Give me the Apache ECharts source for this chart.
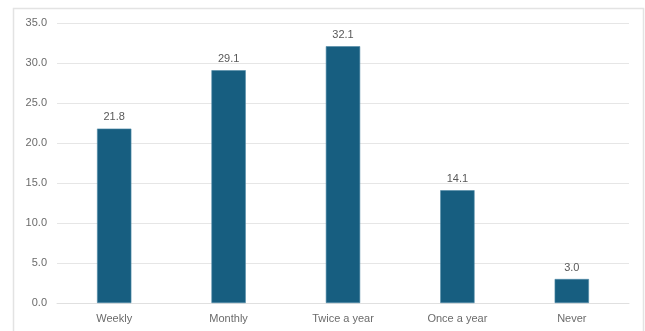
<!DOCTYPE html>
<html>
<head>
<meta charset="utf-8">
<script src="https://cdn.jsdelivr.net/npm/echarts@6/dist/echarts.min.js"></script>
<style>
  html, body { margin: 0; padding: 0; background: #ffffff; }
  #chart { width: 645px; height: 331px; }
</style>
</head>
<body>
<div id="chart"></div>
<script>
// Survey response frequency (percent)
const categories = ['Weekly', 'Monthly', 'Twice a year', 'Once a year', 'Never'];
const values = [21.8, 29.1, 32.1, 14.1, 3.0];
const yTicks = { min: 0, max: 35, interval: 5 };

const chart = echarts.init(document.getElementById('chart'), null, { renderer: 'canvas' });

chart.setOption({
  animation: false,
  backgroundColor: '#ffffff',
  graphic: [{
    type: 'rect',
    shape: { x: 13.5, y: 8.5, width: 630, height: 330 },
    style: { fill: 'none', stroke: '#e3e3e3', lineWidth: 1.5 },
    silent: true
  }],
  grid: { left: 57, right: 16, top: 23, bottom: 28, containLabel: false },
  xAxis: {
    type: 'category',
    data: categories,
    axisLine: { show: true, lineStyle: { color: '#e0e0e0', width: 1 } },
    axisTick: { show: false },
    axisLabel: {
      color: '#6b6b6b',
      fontFamily: 'Liberation Sans, Arial, sans-serif',
      fontSize: 11,
      margin: 10
    }
  },
  yAxis: {
    type: 'value',
    min: yTicks.min,
    max: yTicks.max,
    interval: yTicks.interval,
    axisLine: { show: false },
    axisTick: { show: false },
    splitLine: { lineStyle: { color: '#e6e6e6', width: 1 } },
    axisLabel: {
      color: '#6b6b6b',
      fontFamily: 'Liberation Sans, Arial, sans-serif',
      fontSize: 11,
      margin: 10,
      formatter: v => v.toFixed(1)
    }
  },
  series: [{
    type: 'bar',
    data: values,
    barWidth: '30%',
    itemStyle: { color: '#175e80', borderColor: '#4f8aa6', borderWidth: 0.6 },
    label: {
      show: true,
      position: 'top',
      distance: 6,
      color: '#595959',
      fontFamily: 'Liberation Sans, Arial, sans-serif',
      fontSize: 11,
      formatter: p => p.value.toFixed(1)
    }
  }]
});
</script>
</body>
</html>
